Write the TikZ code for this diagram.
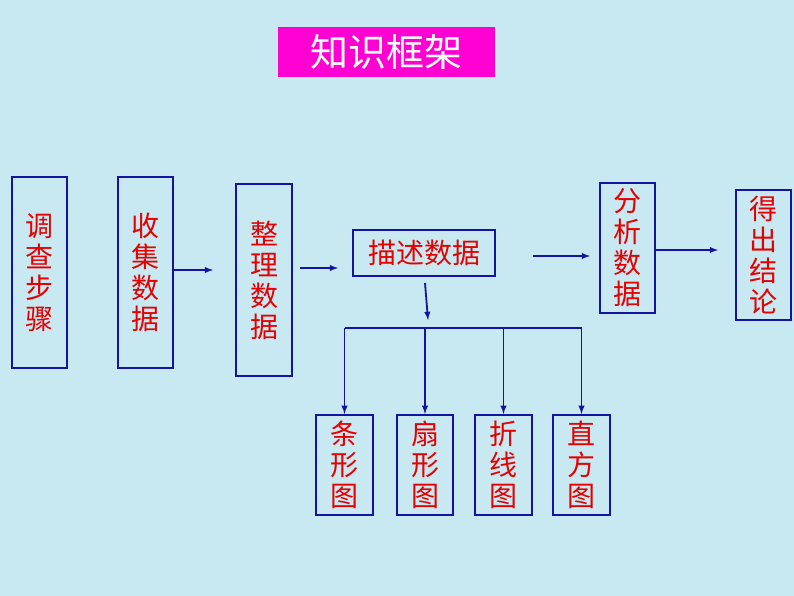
\documentclass[tikz,border=0pt]{standalone}
\usepackage{fontspec}
\newfontfamily\cjk{Noto Sans CJK SC}
\definecolor{bgc}{RGB}{200,233,242}
\definecolor{lnc}{RGB}{20,20,160}
\definecolor{txc}{RGB}{230,0,0}
\definecolor{ttc}{RGB}{255,0,210}
\tikzset{
  box/.style={draw=lnc, line width=2.2pt, inner sep=0pt, text=txc,
    font=\cjk\fontsize{28}{31}\selectfont, align=center},
  arr/.style={draw=lnc, line width=1.8pt, -latex}
}
\begin{document}
\begin{tikzpicture}[x=1pt,y=-1pt]
\fill[bgc] (0,0) rectangle (794,596);
\useasboundingbox (0,0) rectangle (794,596);
\node[fill=ttc, text=white, minimum width=217pt, minimum height=50pt, font=\cjk\fontsize{38}{40}\selectfont] (title) at (386.5,52) {知识框架};
\node[box, minimum width=55pt, minimum height=191pt] (dc) at (39.5,272.5) {调\\查\\步\\骤};
\node[box, minimum width=55pt, minimum height=191pt] (sj) at (145.5,272.5) {收\\集\\数\\据};
\node[box, minimum width=56pt, minimum height=192pt] (zl) at (264,280) {整\\理\\数\\据};
\node[box, minimum width=142pt, minimum height=46pt] (ms) at (424,253) {描述数据};
\node[box, minimum width=55pt, minimum height=130pt] (fx) at (627.5,248) {分\\析\\数\\据};
\node[box, minimum width=55pt, minimum height=130pt] (dj) at (763.5,255) {得\\出\\结\\论};
\node[box, minimum width=57pt, minimum height=100pt] (tx) at (344.5,465) {条\\形\\图};
\node[box, minimum width=56pt, minimum height=100pt] (sx) at (425,465) {扇\\形\\图};
\node[box, minimum width=57pt, minimum height=100pt] (zx) at (503.5,465) {折\\线\\图};
\node[box, minimum width=57pt, minimum height=100pt] (zf) at (581.5,465) {直\\方\\图};
% connectors
\coordinate (a1) at (213,270);
\coordinate (a2) at (338,268);
\coordinate (a3) at (533,256);
\coordinate (a4) at (590,256);
\coordinate (a5) at (656,250);
\coordinate (a6) at (718,250);
\coordinate (d1) at (425,283);
\coordinate (d2) at (428,320);
\draw[arr] (sj.east |- a1) -- (a1);
\draw[arr] (300,268) -- (a2);
\draw[arr] (a3) -- (a4);
\draw[arr] (a5) -- (a6);
\draw[arr] (d1) -- (d2);
\coordinate (bus) at (0,328);
\draw[lnc, line width=1.8pt] (tx |- bus) -- (zf |- bus);
\foreach \n in {tx,sx,zx,zf}
  \draw[arr] (\n |- bus) -- (\n.north);
\end{tikzpicture}
\end{document}
